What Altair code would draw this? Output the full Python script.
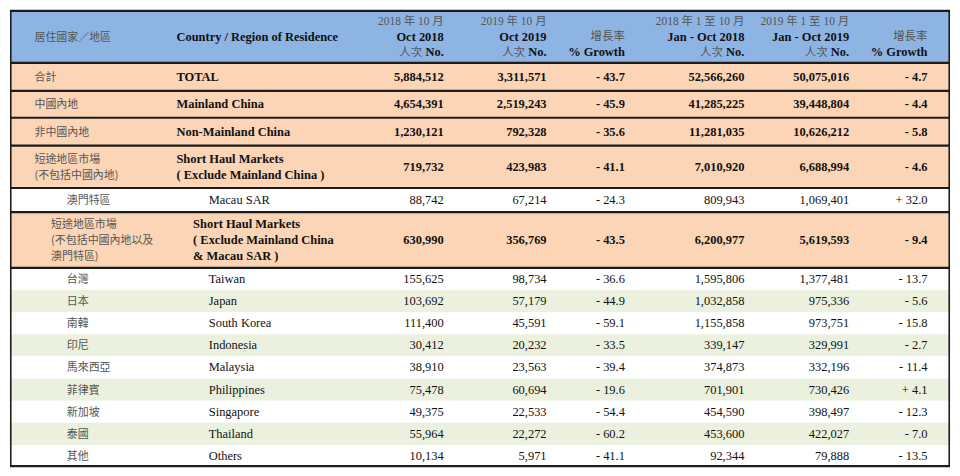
import altair as alt
import pandas as pd

# ---------------- data ----------------
zh_names = ["合計", "中國內地", "非中國內地", "短途地區市場\n(不包括中國內地)", "澳門特區",
            "短途地區市場\n(不包括中國內地以及\n澳門特區)", "台灣", "日本", "南韓", "印尼",
            "馬來西亞", "菲律賓", "新加坡", "泰國", "其他"]
en_names = ["TOTAL", "Mainland China", "Non-Mainland China",
            "Short Haul Markets\n( Exclude Mainland China )", "Macau SAR",
            "Short Haul Markets\n( Exclude Mainland China\n& Macau SAR )", "Taiwan", "Japan",
            "South Korea", "Indonesia", "Malaysia", "Philippines", "Singapore", "Thailand", "Others"]
oct_2018 = [5884512, 4654391, 1230121, 719732, 88742, 630990, 155625, 103692, 111400,
            30412, 38910, 75478, 49375, 55964, 10134]
oct_2019 = [3311571, 2519243, 792328, 423983, 67214, 356769, 98734, 57179, 45591,
            20232, 23563, 60694, 22533, 22272, 5971]
growth_oct = [-43.7, -45.9, -35.6, -41.1, -24.3, -43.5, -36.6, -44.9, -59.1, -33.5,
              -39.4, -19.6, -54.4, -60.2, -41.1]
ytd_2018 = [52566260, 41285225, 11281035, 7010920, 809943, 6200977, 1595806, 1032858,
            1155858, 339147, 374873, 701901, 454590, 453600, 92344]
ytd_2019 = [50075016, 39448804, 10626212, 6688994, 1069401, 5619593, 1377481, 975336,
            973751, 329991, 332196, 730426, 398497, 422027, 79888]
growth_ytd = [-4.7, -4.4, -5.8, -4.6, 32.0, -9.4, -13.7, -5.6, -15.8, -2.7, -11.4, 4.1,
              -12.3, -7.0, -13.5]

head_zh = "居住國家／地區"
head_en = "Country / Region of Residence"
head_top = ["2018 年 10 月", "2019 年 10 月", "", "2018 年 1 至 10 月", "2019 年 1 至 10 月", ""]
head_mid = ["Oct 2018", "Oct 2019", "增長率", "Jan - Oct 2018", "Jan - Oct 2019", "增長率"]
head_bot = ["No.", "No.", "% Growth", "No.", "No.", "% Growth"]
head_unit = "人次"

# ---------------- layout (reference pixel space) ----------------
REF_W, REF_H = 960, 476
W, H = 944, 460
row_bounds = [55, 84, 112, 141, 185, 210, 268, 291, 314, 337, 360, 383, 406, 429, 452, 474]
ORANGE, WHITE, GREEN, BLUE = "#fbd5b5", "#ffffff", "#ebf1de", "#8db4e2"
row_fill = [ORANGE] * 4 + [WHITE, ORANGE] + [WHITE, GREEN] * 4 + [WHITE]
bold_row = [True] * 4 + [False, True] + [False] * 9
zh_x = [25, 25, 25, 25, 58, 42] + [58] * 9
en_x = [170, 170, 170, 170, 203, 187] + [203] * 9
col_right = [443, 548, 628, 750, 857, 937]
line_gap = {1: 0, 2: 16, 3: 17}
border_y = [1, 55, 84, 112, 141, 185, 210, 268, 474]


def fmt_growth(v):
    return ("+ " if v > 0 else "- ") + f"{abs(v):.1f}"


texts = []


def add(x, y, text, style):
    texts.append({"x": x, "y": y, "text": text, "style": style})


def add_lines(x, yc, text, style):
    lines = text.split("\n")
    n = len(lines)
    g = line_gap[n]
    for i, ln in enumerate(lines):
        add(x, yc + (i - (n - 1) / 2) * g, ln, style)


# header
add(25, 28, head_zh, "zh_left")
add(170, 28, head_en, "en_bold_left")
for c, xr in enumerate(col_right):
    if head_top[c]:
        add(xr, 12, head_top[c], "zh_right")
    if c in (2, 5):
        add(xr, 28, head_mid[c], "zh_right")
        add(xr, 44, head_bot[c], "num_bold")
    else:
        add(xr, 28, head_mid[c], "num_bold")
        add(xr, 44, head_bot[c], "num_bold")
        add(xr - 22, 44, head_unit, "zh_right")

# body
for r in range(len(zh_names)):
    yc = (row_bounds[r] + row_bounds[r + 1]) / 2
    add_lines(zh_x[r], yc, zh_names[r], "zh_left")
    add_lines(en_x[r], yc, en_names[r], "en_bold_left" if bold_row[r] else "en_left")
    st = "num_bold" if bold_row[r] else "num"
    vals = [f"{oct_2018[r]:,}", f"{oct_2019[r]:,}", fmt_growth(growth_oct[r]),
            f"{ytd_2018[r]:,}", f"{ytd_2019[r]:,}", fmt_growth(growth_ytd[r])]
    for c, v in enumerate(vals):
        add(col_right[c], yc, v, st)

text_df = pd.DataFrame(texts)

bg_df = pd.DataFrame(
    [{"y": 0, "y2": 55, "fill": BLUE}]
    + [{"y": row_bounds[i], "y2": row_bounds[i + 1], "fill": row_fill[i]}
       for i in range(len(row_fill))]
)
hline_df = pd.DataFrame({"y": border_y})
vline_df = pd.DataFrame({"x": [0.8, 959.2], "y": [0, 0], "y2": [474, 474]})

xs = alt.Scale(domain=[0, REF_W], range=[0, W], zero=False, nice=False)
ys = alt.Scale(domain=[0, REF_H], range=[0, H], zero=False, nice=False)

bg = alt.Chart(bg_df).mark_rect().encode(
    x=alt.value(0), x2=alt.value(W),
    y=alt.Y("y:Q", scale=ys, axis=None), y2="y2:Q",
    color=alt.Color("fill:N", scale=None),
)

hlines = alt.Chart(hline_df).mark_rule(color="#1c1c1c", strokeWidth=2.2).encode(
    x=alt.value(0), x2=alt.value(W), y=alt.Y("y:Q", scale=ys, axis=None)
)
vlines = alt.Chart(vline_df).mark_rule(color="#1c1c1c", strokeWidth=1.6).encode(
    x=alt.X("x:Q", scale=xs, axis=None),
    y=alt.Y("y:Q", scale=ys, axis=None), y2="y2:Q",
)

SERIF = "Liberation Serif, Times New Roman, serif"
CJK = "Noto Sans CJK TC, Noto Sans CJK SC, sans-serif"
MIX = "Liberation Serif, Noto Sans CJK TC, serif"

styles = {
    "zh_left": dict(font=CJK, fontSize=11, color="#555555", align="left", fontWeight="normal", dy=1),
    "en_bold_left": dict(font=SERIF, fontSize=12.5, color="#111111", align="left", fontWeight="bold"),
    "en_left": dict(font=SERIF, fontSize=12.5, color="#111111", align="left", fontWeight="normal"),
    "num_bold": dict(font=SERIF, fontSize=12.5, color="#111111", align="right", fontWeight="bold"),
    "num": dict(font=SERIF, fontSize=12.5, color="#111111", align="right", fontWeight="normal"),
    "zh_right": dict(font=MIX, fontSize=11.5, color="#555555", align="right", fontWeight="normal", dy=0.5),
}

base = alt.Chart(text_df)
text_layers = []
for name, st in styles.items():
    text_layers.append(
        base.transform_filter(alt.datum.style == name)
        .mark_text(baseline="middle", **st)
        .encode(
            x=alt.X("x:Q", scale=xs, axis=None),
            y=alt.Y("y:Q", scale=ys, axis=None),
            text="text:N",
        )
    )

chart = alt.layer(bg, hlines, vlines, *text_layers).properties(
    width=W, height=H, padding=0
).configure_view(stroke=None)

chart.save("out.html", embed_options={"renderer": "svg", "actions": False})
